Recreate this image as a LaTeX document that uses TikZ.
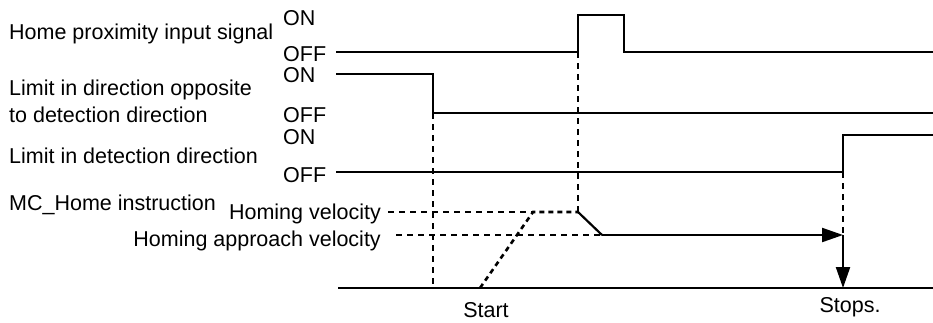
\documentclass[tikz,border=0pt]{standalone}
\usepackage{fontspec}
\setmainfont{Liberation Sans}
\usetikzlibrary{arrows.meta}
\begin{document}
\begin{tikzpicture}[x=1pt,y=-1pt,
  lbl/.style={inner sep=0pt,anchor=base west,font=\fontsize{21.5}{25}\selectfont},
  lblr/.style={inner sep=0pt,anchor=base east,font=\fontsize{21.5}{25}\selectfont},
  lblc/.style={inner sep=0pt,anchor=base,font=\fontsize{21.5}{25}\selectfont},
  sig/.style={line width=2.2pt},
  guide/.style={line width=1.3pt,dash pattern=on 6pt off 5pt},
  ramp/.style={line width=2.6pt,dash pattern=on 5pt off 4pt},
  tip/.style={-{Triangle[length=21pt,width=14pt]}}]
\useasboundingbox (0,0) rectangle (933,322);
% labels
\node[lbl] (l1) at (9,39) {Home proximity input signal};
\node[lbl] (l2a) at (9,95) {Limit in direction opposite};
\node[lbl] (l2b) at (9,122) {to detection direction};
\node[lbl] (l3) at (9,163) {Limit in detection direction};
\node[lbl] (l4) at (9,210) {MC\_Home instruction};
\node[lbl] (on1) at (283,25) {ON};
\node[lbl] (off1) at (283,61) {OFF};
\node[lbl] (on2) at (283,82) {ON};
\node[lbl] (off2) at (283,122) {OFF};
\node[lbl] (on3) at (283,144) {ON};
\node[lbl] (off3) at (283,182) {OFF};
\node[lblr] (hv) at (381,219) {Homing velocity};
\node[lblr] (hav) at (381,246) {Homing approach velocity};
\node[lblc] (st) at (486,317) {Start};
\node[lblc] (sp) at (850,312) {Stops.};
% key coordinates
\coordinate (a1) at (578,52);
\coordinate (a2) at (433,113);
\coordinate (a3) at (843,172);
\coordinate (hvl) at (578,212);
\coordinate (havl) at (602,235);
\coordinate (stop) at (843,235);
\coordinate (ground) at (843,288);
% signals
\draw[sig] (336,52) -- (a1) -- (578,15) -- (624,15) -- (624,52) -- (933,52);
\draw[sig] (336,74) -- (433,74) -- (a2) -- (933,113);
\draw[sig] (336,172) -- (a3) -- (843,135) -- (933,135);
\draw[sig] (338,288) -- (933,288);
% guides
\draw[guide] (a2) -- (433,288);
\draw[guide] (a1) -- (hvl);
\draw[guide] (a3) -- (stop);
\draw[guide] (388,212) -- (533,212);
\draw[guide] (396,235) -- (havl);
% velocity profile
\draw[ramp] (480,288) -- (533,212) -- (hvl);
\draw[sig] (hvl) -- (havl);
\draw[sig,tip] (havl) -- (stop);
\draw[sig,tip] (stop) -- (ground);
\end{tikzpicture}
\end{document}
